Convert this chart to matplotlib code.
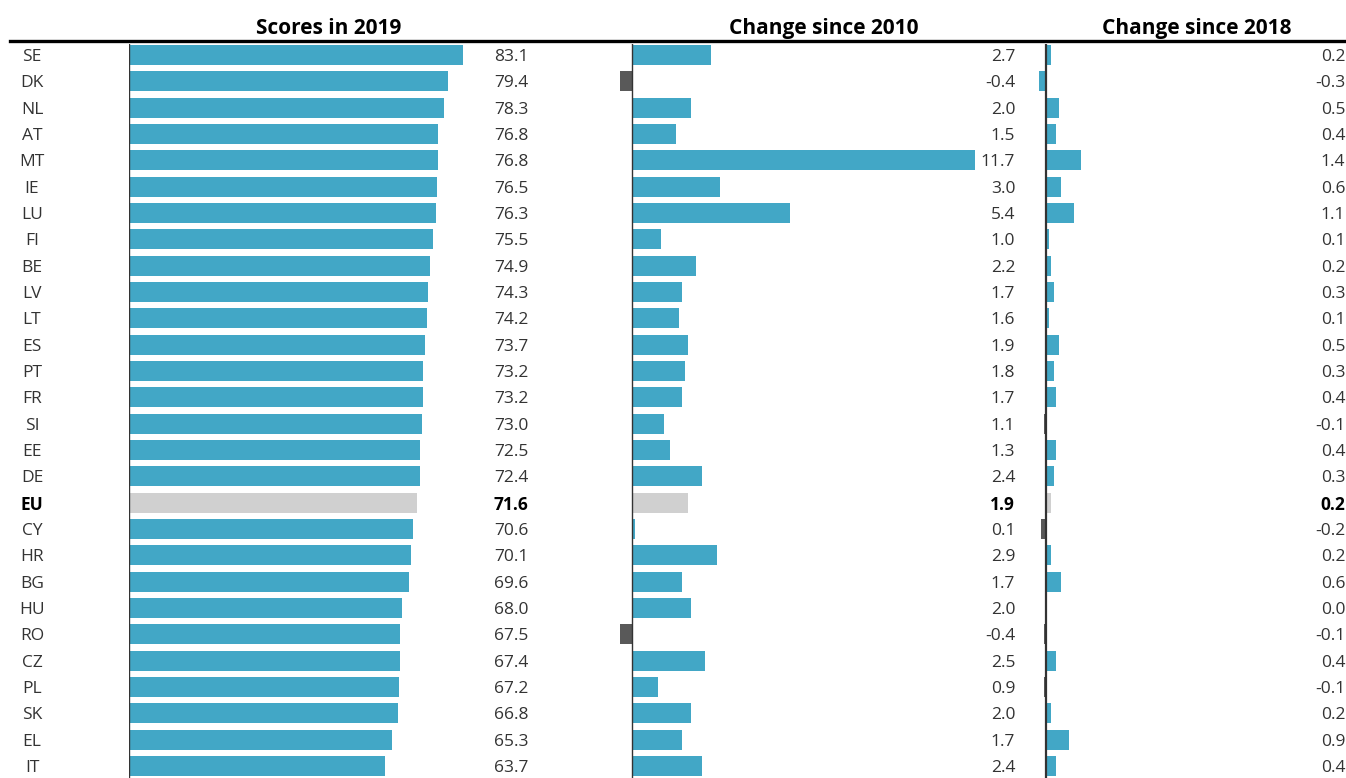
import numpy as np
import matplotlib.pyplot as plt
from matplotlib.transforms import blended_transform_factory

plt.rcParams['font.family'] = ['Open Sans', 'DejaVu Sans']

countries = ["SE", "DK", "NL", "AT", "MT", "IE", "LU", "FI", "BE", "LV", "LT", "ES", "PT", "FR",
             "SI", "EE", "DE", "EU", "CY", "HR", "BG", "HU", "RO", "CZ", "PL", "SK", "EL", "IT"]
scores_2019 = [83.1, 79.4, 78.3, 76.8, 76.8, 76.5, 76.3, 75.5, 74.9, 74.3, 74.2, 73.7, 73.2, 73.2,
               73.0, 72.5, 72.4, 71.6, 70.6, 70.1, 69.6, 68.0, 67.5, 67.4, 67.2, 66.8, 65.3, 63.7]
change_2010 = [2.7, -0.4, 2.0, 1.5, 11.7, 3.0, 5.4, 1.0, 2.2, 1.7, 1.6, 1.9, 1.8, 1.7,
               1.1, 1.3, 2.4, 1.9, 0.1, 2.9, 1.7, 2.0, -0.4, 2.5, 0.9, 2.0, 1.7, 2.4]
change_2018 = [0.2, -0.3, 0.5, 0.4, 1.4, 0.6, 1.1, 0.1, 0.2, 0.3, 0.1, 0.5, 0.3, 0.4,
               -0.1, 0.4, 0.3, 0.2, -0.2, 0.2, 0.6, 0.0, -0.1, 0.4, -0.1, 0.2, 0.9, 0.4]
titles = ["Scores in 2019", "Change since 2010", "Change since 2018"]

BLUE = "#42a7c6"
NEG = "#595959"
EU_GREY = "#d0d0d0"

W, H = 1346, 778
fig = plt.figure(figsize=(W / 100, H / 100), dpi=100)

def colors_for(vals, keep_blue=()):
    out = []
    for c, v in zip(countries, vals):
        if c == "EU":
            out.append(EU_GREY)
        elif v < 0 and c not in keep_blue:
            out.append(NEG)
        else:
            out.append(BLUE)
    return out

# panel: (values, left px, right px, zero px, px per unit, axis line width, title centre px)
panels = [
    (scores_2019, 129, 529, 129, 4.02, 1.0, (), 329),
    (change_2010, 610, 1016, 632, 29.3, 1.0, (), 824),
    (change_2018, 1030, 1346, 1046, 25.0, 1.6, ("DK",), 1197),
]

top_px = 44
row0_px = 55
pitch = 26.33
y = np.arange(len(countries))
ylim_top = -(row0_px - top_px) / pitch
ylim_bot = (H - row0_px) / pitch
FS = 12.5

for i, (vals, lpx, rpx, zpx, ppu, lw, keep, tx) in enumerate(panels):
    ax = fig.add_axes([lpx / W, 0, (rpx - lpx) / W, (H - top_px) / H])
    ax.barh(y, vals, height=0.76, color=colors_for(vals, keep), zorder=2)
    ax.set_xlim(-(zpx - lpx) / ppu, (rpx - zpx) / ppu)
    ax.set_ylim(ylim_bot, ylim_top)
    ax.axvline(0, color="#333333", lw=lw, zorder=3)
    ax.axis("off")
    tr = blended_transform_factory(ax.transAxes, ax.transData)
    for yy, c, v in zip(y, countries, vals):
        bold = c == "EU"
        ax.text(0.998, yy, f"{v:.1f}", transform=tr, ha="right", va="center_baseline",
                fontsize=FS, color="black" if bold else "#333333",
                fontweight="bold" if bold else "normal")
    fig.text(tx / W, 1 - 26 / H, titles[i], ha="center", va="center_baseline",
             fontsize=15, fontweight="bold")

# country labels
lab = fig.add_axes([0, 0, 129 / W, (H - top_px) / H])
lab.set_xlim(0, 129)
lab.set_ylim(ylim_bot, ylim_top)
lab.axis("off")
for yy, c in zip(y, countries):
    bold = c == "EU"
    lab.text(32, yy, c, ha="center", va="center_baseline", fontsize=FS,
             color="black" if bold else "#333333", fontweight="bold" if bold else "normal")

# header rule
fig.add_artist(plt.Line2D([10 / W, 1], [1 - 41 / H, 1 - 41 / H], color="black", lw=2.4))

plt.savefig("out.png", dpi=100)
